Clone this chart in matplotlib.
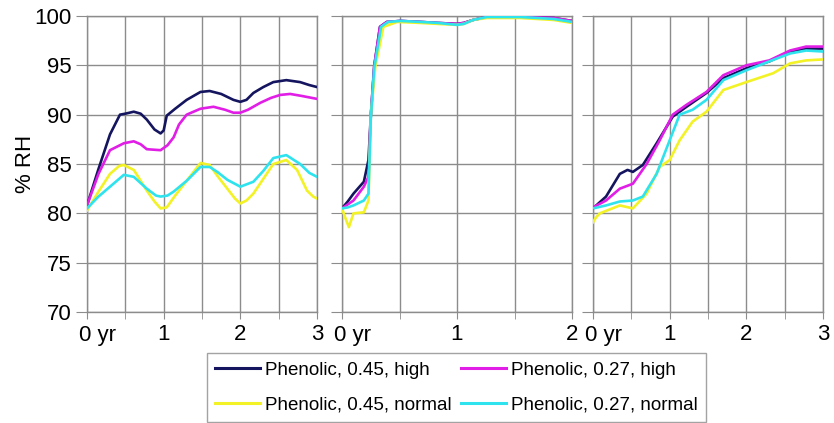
import matplotlib
matplotlib.use("Agg")
import matplotlib.pyplot as plt
import matplotlib.transforms as mtransforms

plt.rcParams['font.family'] = ['Liberation Sans', 'DejaVu Sans']

# ---------------- data ----------------
labels = ["Phenolic, 0.45, high", "Phenolic, 0.27, high",
          "Phenolic, 0.45, normal", "Phenolic, 0.27, normal"]
colors = ["#15155f", "#e01ee6", "#f2f226", "#2ee3ee"]

# Panel 1 (0..3 yr)
p1_navy_x = [0, 0.15, 0.3, 0.43, 0.5, 0.61, 0.7, 0.78, 0.88, 0.96, 1.0, 1.04, 1.15, 1.3, 1.48, 1.6, 1.75, 1.91, 2.0, 2.08, 2.17, 2.3, 2.43, 2.6, 2.78, 2.9, 3.0]
p1_navy_y = [80.8, 84.5, 88.0, 90.0, 90.1, 90.3, 90.1, 89.5, 88.5, 88.1, 88.4, 89.9, 90.6, 91.5, 92.3, 92.4, 92.1, 91.5, 91.3, 91.5, 92.2, 92.8, 93.3, 93.5, 93.3, 93.0, 92.8]

p1_mag_x = [0, 0.15, 0.3, 0.48, 0.61, 0.7, 0.78, 0.96, 1.05, 1.13, 1.2, 1.3, 1.48, 1.65, 1.8, 1.91, 2.0, 2.1, 2.26, 2.4, 2.52, 2.65, 2.8, 3.0]
p1_mag_y = [80.8, 84.0, 86.4, 87.1, 87.3, 87.0, 86.5, 86.4, 86.9, 87.7, 89.0, 90.0, 90.6, 90.8, 90.5, 90.2, 90.2, 90.5, 91.2, 91.7, 92.0, 92.1, 91.9, 91.6]

p1_yel_x = [0, 0.15, 0.3, 0.42, 0.48, 0.61, 0.7, 0.78, 0.88, 0.96, 1.04, 1.15, 1.3, 1.48, 1.6, 1.7, 1.83, 1.93, 2.0, 2.08, 2.17, 2.3, 2.43, 2.6, 2.74, 2.87, 2.95, 3.0]
p1_yel_y = [80.3, 82.2, 84.0, 84.8, 84.9, 84.4, 83.3, 82.3, 81.2, 80.5, 80.6, 81.8, 83.3, 85.1, 84.9, 83.8, 82.5, 81.5, 81.0, 81.3, 82.0, 83.5, 85.0, 85.4, 84.4, 82.3, 81.7, 81.5]

p1_cyan_x = [0, 0.15, 0.3, 0.48, 0.61, 0.78, 0.9, 0.96, 1.05, 1.13, 1.3, 1.48, 1.6, 1.7, 1.83, 2.0, 2.17, 2.3, 2.43, 2.6, 2.78, 2.9, 3.0]
p1_cyan_y = [80.5, 81.7, 82.7, 83.9, 83.7, 82.5, 81.8, 81.7, 81.8, 82.2, 83.3, 84.7, 84.7, 84.2, 83.4, 82.7, 83.2, 84.3, 85.6, 85.9, 85.0, 84.1, 83.7]

# Panel 2 (0..2 yr)
p2_navy_x = [0, 0.05, 0.1, 0.19, 0.23, 0.25, 0.28, 0.33, 0.39, 0.51, 0.68, 0.83, 1.0, 1.06, 1.14, 1.26, 1.55, 1.84, 2.0]
p2_navy_y = [80.5, 81.2, 82.0, 83.2, 85.4, 89.8, 94.9, 98.9, 99.4, 99.5, 99.4, 99.3, 99.2, 99.3, 99.6, 99.9, 99.9, 99.8, 99.5]

p2_mag_x = [0, 0.05, 0.1, 0.19, 0.23, 0.25, 0.28, 0.33, 0.39, 0.51, 0.68, 0.83, 1.0, 1.06, 1.14, 1.26, 1.55, 1.84, 2.0]
p2_mag_y = [80.5, 80.9, 81.3, 82.7, 83.7, 89.8, 94.9, 98.9, 99.4, 99.5, 99.4, 99.3, 99.2, 99.3, 99.6, 99.9, 99.9, 99.8, 99.5]

p2_cyan_x = [0, 0.05, 0.1, 0.19, 0.23, 0.25, 0.28, 0.34, 0.4, 0.51, 0.68, 0.83, 1.0, 1.06, 1.14, 1.26, 1.55, 1.84, 2.0]
p2_cyan_y = [80.5, 80.6, 80.8, 81.3, 82.0, 89.5, 94.7, 98.9, 99.4, 99.5, 99.4, 99.3, 99.1, 99.2, 99.6, 99.9, 99.9, 99.7, 99.4]

p2_yel_x = [0, 0.03, 0.06, 0.1, 0.19, 0.23, 0.25, 0.29, 0.36, 0.48, 0.68, 0.83, 1.0, 1.06, 1.14, 1.26, 1.55, 1.84, 2.0]
p2_yel_y = [80.5, 79.5, 78.6, 80.0, 80.1, 81.3, 89.8, 94.9, 98.9, 99.4, 99.3, 99.2, 99.1, 99.2, 99.6, 99.8, 99.8, 99.6, 99.3]

# Panel 3 (0..3 yr)
p3_navy_x = [0, 0.17, 0.35, 0.45, 0.52, 0.65, 0.83, 1.04, 1.22, 1.48, 1.7, 2.0, 2.3, 2.57, 2.78, 3.0]
p3_navy_y = [80.5, 81.7, 84.0, 84.4, 84.2, 84.9, 87.1, 89.8, 90.8, 92.2, 93.7, 94.7, 95.4, 96.4, 96.7, 96.7]

p3_mag_x = [0, 0.17, 0.35, 0.52, 0.7, 0.87, 1.04, 1.22, 1.48, 1.7, 2.0, 2.3, 2.57, 2.78, 3.0]
p3_mag_y = [80.6, 81.3, 82.5, 83.0, 85.0, 87.4, 90.0, 91.0, 92.3, 94.0, 95.0, 95.5, 96.5, 96.9, 96.9]

p3_cyan_x = [0, 0.17, 0.35, 0.52, 0.65, 0.83, 1.0, 1.13, 1.3, 1.48, 1.7, 2.0, 2.3, 2.57, 2.78, 3.0]
p3_cyan_y = [80.5, 80.8, 81.2, 81.3, 81.7, 84.0, 87.4, 90.0, 90.5, 91.5, 93.5, 94.5, 95.4, 96.2, 96.5, 96.4]

p3_yel_x = [0, 0.04, 0.09, 0.35, 0.52, 0.7, 0.87, 1.0, 1.13, 1.3, 1.48, 1.7, 2.0, 2.35, 2.57, 2.78, 3.0]
p3_yel_y = [79.1, 79.6, 80.0, 80.8, 80.5, 82.0, 84.7, 85.4, 87.4, 89.3, 90.3, 92.5, 93.3, 94.2, 95.2, 95.5, 95.6]

p1_ticks = [0, 1, 2, 3]
p2_ticks = [0, 1, 2]
p3_ticks = [0, 1, 2, 3]
tick_labels_3 = ["0 yr", "1", "2", "3"]
tick_labels_2 = ["0 yr", "1", "2"]
y_ticks = [70, 75, 80, 85, 90, 95, 100]

# ---------------- figure ----------------
W, H = 834, 423
fig = plt.figure(figsize=(W / 100, H / 100), dpi=100)

def ax_rect(x0, x1, y0=16, y1=312):
    return [x0 / W, 1 - y1 / H, (x1 - x0) / W, (y1 - y0) / H]

ax1 = fig.add_axes(ax_rect(87, 317))
ax2 = fig.add_axes(ax_rect(342, 572))
ax3 = fig.add_axes(ax_rect(593, 823))

grid_c = "#8c8c8c"
panels = [
    (ax1, 3, p1_ticks, tick_labels_3,
     [(p1_navy_x, p1_navy_y), (p1_mag_x, p1_mag_y), (p1_yel_x, p1_yel_y), (p1_cyan_x, p1_cyan_y)]),
    (ax2, 2, p2_ticks, tick_labels_2,
     [(p2_navy_x, p2_navy_y), (p2_mag_x, p2_mag_y), (p2_yel_x, p2_yel_y), (p2_cyan_x, p2_cyan_y)]),
    (ax3, 3, p3_ticks, tick_labels_3,
     [(p3_navy_x, p3_navy_y), (p3_mag_x, p3_mag_y), (p3_yel_x, p3_yel_y), (p3_cyan_x, p3_cyan_y)]),
]

draw_order = [0, 1, 3, 2]
handles = [None] * 4
for i, (ax, xmax, ticks, tlabels, series) in enumerate(panels):
    ax.set_xlim(0, xmax)
    ax.set_ylim(70, 100)
    for k in draw_order:
        xs, ys = series[k]
        ln, = ax.plot(xs, ys, color=colors[k], lw=1.9, label=labels[k],
                      solid_joinstyle='round', zorder=3 + k * 0.1)
        if i == 0:
            handles[k] = ln
    # grid every half year
    minor = [j * 0.5 for j in range(int(xmax * 2) + 1)]
    ax.set_xticks(minor, minor=True)
    ax.set_xticks(ticks)
    ax.set_xticklabels(tlabels, fontsize=16)
    ax.set_yticks(y_ticks)
    ax.grid(True, which='both', color=grid_c, lw=1.0, zorder=1)
    ax.tick_params(axis='x', which='both', direction='out', length=5, color=grid_c, pad=4)
    ax.tick_params(axis='x', which='major', labelsize=16)
    ax.tick_params(axis='y', direction='out', length=8, color=grid_c, pad=3, labelsize=16)
    for sp in ax.spines.values():
        sp.set_color(grid_c)
        sp.set_linewidth(1.0)
    if i > 0:
        ax.set_yticklabels([])
    # shift "0 yr" so the zero sits on the axis start
    lab0 = ax.get_xticklabels()[0]
    lab0.set_horizontalalignment('left')
    lab0.set_transform(lab0.get_transform() + mtransforms.ScaledTranslation(-8 / 100, 0, fig.dpi_scale_trans))

ax1.set_ylabel("% RH", fontsize=16, labelpad=-1)

leg_handles = [handles[0], handles[2], handles[1], handles[3]]
leg_labels = [labels[0], labels[2], labels[1], labels[3]]
leg = fig.legend(leg_handles, leg_labels, loc='upper left',
                 bbox_to_anchor=(207 / W, 1 - 353 / H), ncol=2,
                 fontsize=13.5, frameon=True, fancybox=False,
                 edgecolor="#8c8c8c", handlelength=2.4, handletextpad=0.25,
                 columnspacing=0.5, labelspacing=0.95, borderpad=0.45,
                 borderaxespad=0)
leg.get_frame().set_linewidth(1.0)
for lh in leg.get_lines():
    lh.set_linewidth(2.2)

fig.savefig("out.png", dpi=100)
